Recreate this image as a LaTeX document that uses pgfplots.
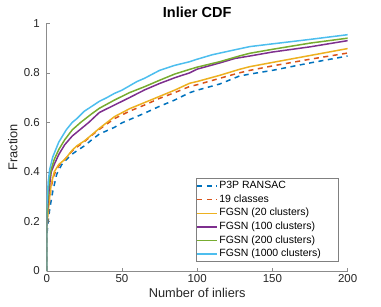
\documentclass[border=0pt]{standalone}
\usepackage{fontspec}
\setmainfont{Liberation Sans}
\usepackage{pgfplots}
\pgfplotsset{compat=1.18}
\definecolor{mblue}{rgb}{0,0.447,0.741}
\definecolor{morange}{rgb}{0.85,0.325,0.098}
\definecolor{myellow}{rgb}{0.929,0.694,0.125}
\definecolor{mpurple}{rgb}{0.494,0.184,0.556}
\definecolor{mgreen}{rgb}{0.466,0.674,0.188}
\definecolor{mcyan}{rgb}{0.301,0.745,0.933}
\begin{document}
\begin{tikzpicture}
\begin{axis}[
  scale only axis, width=301pt, height=247.7pt,
  xmin=0, xmax=200, ymin=0, ymax=1,
  axis lines*=left,
  axis line style={black!45, line width=0.6pt},
  tick align=inside, major tick length=3pt,
  every tick/.style={black!45, line width=0.6pt},
  xtick={0,50,100,150,200}, ytick={0,0.2,0.4,0.6,0.8,1},
  /pgf/number format/assume math mode=true,
  ticklabel style={font=\fontsize{11.5}{13}\selectfont, text=black!85},
  xticklabel style={anchor=north, inner sep=0pt, yshift=-3.3pt},
  yticklabel style={anchor=east, inner sep=0pt, xshift=-6.7pt},
  title={Inlier CDF},
  every axis title shift=0pt,
  title style={font=\fontsize{14.5}{16}\selectfont\bfseries, at={(axis description cs:0.5,1)}, anchor=base, inner sep=0pt, yshift=6pt},
  xlabel={Number of inliers},
  xlabel style={font=\fontsize{12.8}{14}\selectfont, text=black!85, at={(axis description cs:0.5,0)}, anchor=base, inner sep=0pt, yshift=-26.5pt},
  ylabel={Fraction},
  ylabel style={font=\fontsize{12.8}{14}\selectfont, text=black!85, at={(axis description cs:0,0.5)}, anchor=base, inner sep=0pt, yshift=29.4pt},
  legend style={at={(0.971,0.0375)}, anchor=south east, draw=black!50, line width=0.5pt,
     font=\fontsize{10.5}{12}\selectfont, inner sep=0.6pt, row sep=0pt, column sep=0pt,
     nodes={inner xsep=1.2pt, inner ysep=1.5pt, text height=8pt, text depth=2.6pt}},
  legend cell align=left,
  legend image code/.code={\draw[#1] (0pt,0pt) -- (20pt,0pt);},
  every axis plot/.append style={line width=1.5pt},
]
\addplot[mblue, dash pattern=on 5pt off 4.5pt] coordinates {(0,0)(0,0.14)(1,0.2)(2,0.25)(4,0.32)(6.6,0.39)(10,0.43)(16,0.468)(20,0.485)(25,0.505)(30,0.53)(35,0.553)(45,0.58)(50,0.598)(65,0.637)(75,0.665)(85,0.69)(95,0.72)(100,0.73)(115,0.755)(128,0.787)(135,0.795)(150,0.81)(175,0.84)(200,0.868)};
\addlegendentry{P3P RANSAC}
\addplot[morange, dash pattern=on 5pt off 4.5pt] coordinates {(0,0)(0,0.16)(1,0.23)(2,0.29)(3,0.34)(5,0.39)(8,0.425)(12,0.45)(17,0.485)(20,0.50)(25,0.522)(30,0.548)(35,0.572)(45,0.615)(55,0.645)(65,0.67)(75,0.697)(85,0.72)(95,0.745)(100,0.752)(115,0.778)(128,0.80)(135,0.81)(150,0.828)(175,0.855)(200,0.88)};
\addlegendentry{19 classes}
\addplot[myellow] coordinates {(0,0)(0,0.17)(1,0.24)(2,0.30)(3,0.35)(5,0.40)(8,0.43)(12,0.45)(17,0.488)(20,0.505)(25,0.525)(30,0.55)(35,0.576)(45,0.623)(55,0.655)(65,0.68)(75,0.705)(85,0.73)(95,0.758)(100,0.765)(115,0.79)(128,0.814)(135,0.825)(150,0.842)(175,0.87)(200,0.898)};
\addlegendentry{FGSN (20 clusters)}
\addplot[mpurple] coordinates {(0,0)(0,0.18)(1,0.29)(2,0.35)(3,0.40)(5,0.43)(8,0.47)(12,0.51)(17,0.545)(22,0.57)(28,0.6)(35,0.64)(45,0.67)(55,0.70)(65,0.731)(75,0.757)(85,0.78)(95,0.80)(100,0.815)(115,0.84)(125,0.858)(135,0.868)(150,0.884)(175,0.905)(200,0.93)};
\addlegendentry{FGSN (100 clusters)}
\addplot[mgreen] coordinates {(0,0)(0,0.2)(1,0.32)(2,0.38)(3,0.41)(5,0.45)(8,0.49)(12,0.53)(17,0.57)(22.6,0.6)(30,0.635)(35,0.657)(45,0.69)(55,0.72)(65,0.744)(75,0.77)(85,0.795)(95,0.814)(100,0.823)(115,0.845)(128,0.868)(135,0.879)(150,0.895)(175,0.92)(200,0.94)};
\addlegendentry{FGSN (200 clusters)}
\addplot[mcyan] coordinates {(0,0)(0,0.25)(1,0.36)(2,0.41)(4,0.46)(6,0.49)(8,0.52)(10,0.54)(13,0.57)(17,0.60)(20,0.615)(25,0.645)(30,0.665)(35,0.685)(40,0.70)(45,0.717)(50,0.73)(60,0.765)(65,0.778)(75,0.81)(85,0.83)(95,0.845)(100,0.855)(110,0.873)(125,0.893)(135,0.906)(150,0.917)(175,0.935)(200,0.954)};
\addlegendentry{FGSN (1000 clusters)\hspace*{16pt}}
\end{axis}
\pgfresetboundingbox
\useasboundingbox ([shift={(-46.7pt,-35pt)}]current axis.south west) rectangle ++(381pt,306pt);
\end{tikzpicture}
\end{document}
